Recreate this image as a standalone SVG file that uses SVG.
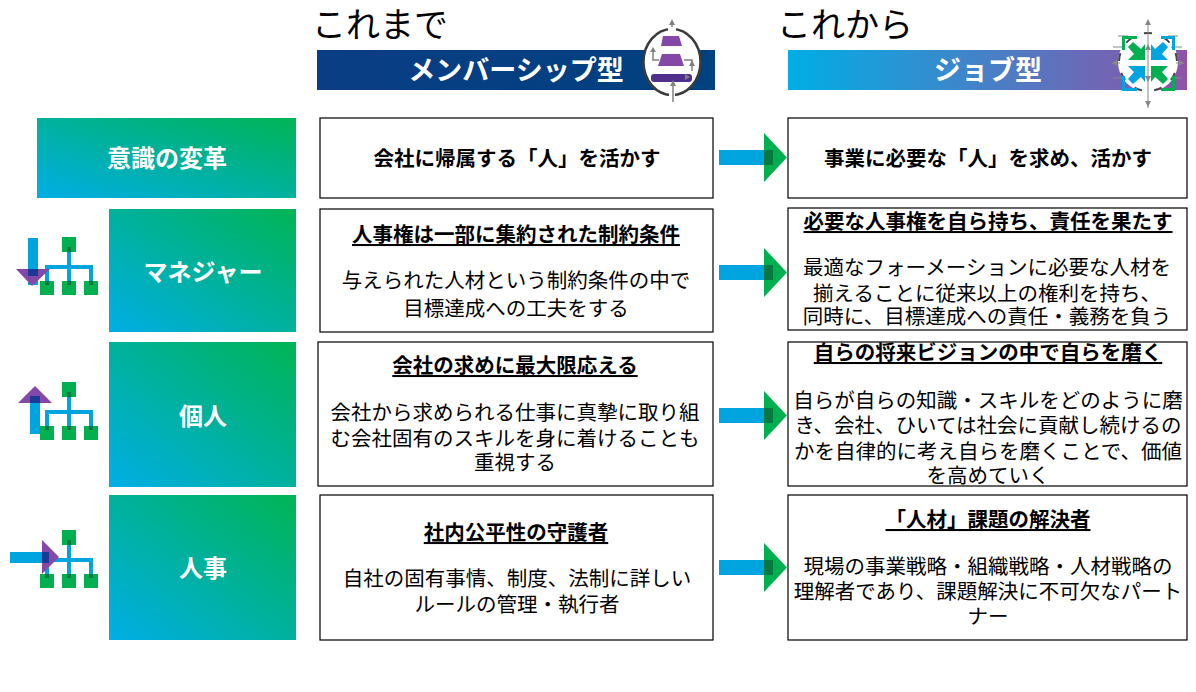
<svg xmlns="http://www.w3.org/2000/svg" width="1196" height="692" viewBox="0 0 1196 692">
<style>
text{font-family:"Noto Sans CJK JP","Noto Sans",sans-serif;fill:#000;text-anchor:middle}
.t{font-size:20.5px}
.b{font-size:20.5px;font-weight:700}
.h{font-size:20.5px;font-weight:700;text-decoration:underline}
.w{font-size:27px;font-weight:700;fill:#fff}
.l{font-size:24px;font-weight:700;fill:#fff}
.big{font-size:34px;text-anchor:start}
.box{fill:#fff;stroke:#000;stroke-width:1.2}
.c{fill:#00a5df}.g{fill:#00b050}.p{fill:#8448a8}.d{fill:#06793f}.n{fill:#1a3a96}
</style>
<defs>
<linearGradient id="gr" x1="0" y1="1" x2="1" y2="0"><stop offset="0" stop-color="#00aee6"/><stop offset="1" stop-color="#00b454"/></linearGradient>
<linearGradient id="nv" x1="0" y1="0" x2="1" y2="0"><stop offset="0" stop-color="#0a3d84"/><stop offset="1" stop-color="#00417f"/></linearGradient>
<linearGradient id="bp" x1="0" y1="0" x2="1" y2="0"><stop offset="0" stop-color="#00aee6"/><stop offset="1" stop-color="#8d53a8"/></linearGradient>
<g id="org">
<rect x="62" y="0" width="14" height="15" class="g"/>
<rect x="40" y="44" width="14" height="14" class="g"/><rect x="62" y="44" width="14" height="14" class="g"/><rect x="84" y="44" width="14" height="14" class="g"/>
<rect x="67" y="10" width="4" height="38" class="c"/>
<path d="M45 48V28H93V48H89V32H49V48Z" class="c"/>
<rect x="67" y="10" width="4" height="5" class="d"/>
<rect x="45" y="44" width="4" height="4" class="d"/><rect x="67" y="44" width="4" height="4" class="d"/><rect x="89" y="44" width="4" height="4" class="d"/>
</g>
<g id="arr">
<rect x="719" y="0" width="45" height="15" class="c"/>
<path d="M764 -17L787 7.500L764 32Z" class="g"/>
<rect x="764" y="0" width="9" height="15" class="d"/>
</g>
</defs>

<g id="connectors">
<use href="#arr" y="150"/>
<use href="#arr" y="265"/>
<use href="#arr" y="408"/>
<use href="#arr" y="560"/>
</g>

<g id="header-old">
<text class="big" x="312" y="37">これまで</text>
<rect x="317" y="50" width="398" height="40" fill="url(#nv)"/>
<text class="w" x="516" y="80">メンバーシップ型</text>
<ellipse cx="672" cy="62" rx="28.500" ry="33" fill="#fff" stroke="#3c3c3c" stroke-width="2.500"/>
<rect x="668" y="26" width="8" height="6" fill="#fff"/><rect x="669" y="92" width="6" height="6" fill="#fff"/>
<path d="M663 36H679L682 46H661Z" class="p"/>
<path d="M662 54H680L684 66H658Z" class="p"/>
<rect x="651" y="74" width="41" height="8" rx="3" fill="#50308c"/>
<path d="M672 21V27M673 86V102M653 50V60H659M684 60H692V71" stroke="#808080" stroke-width="1.500" fill="none"/>
<path d="M672 19L669 25H675ZM653 47L650 52H656ZM692 60L689 66H695ZM673 80L670 86H676ZM690 77L685 74V80Z" fill="#808080"/>
</g>

<g id="header-new">
<text class="big" x="777" y="37">これから</text>
<rect x="788" y="50" width="399" height="40" fill="url(#bp)"/>
<text class="w" x="988" y="80">ジョブ型</text>
<circle cx="1148" cy="62" r="30" fill="#fff"/>
<circle cx="1148" cy="62" r="29" fill="none" stroke="#444" stroke-width="2" stroke-dasharray="8 12.200" stroke-dashoffset="4" transform="rotate(-90 1148 62)"/>
<path d="M1148 20V108M1112 63H1120M1176 63H1184M1118 36H1128M1168 36H1178M1113 78H1124M1171 78H1182M1113 47H1124M1171 47H1182" stroke="#888" stroke-width="1"/>
<path d="M1148 19l-3 6h6ZM1148 107l-3 -6h6ZM1148 44l-3 6h6ZM1148 82l-3 -6h6ZM1112 63l5 -3v6ZM1184 63l-5 -3v6Z" fill="#888"/>
<path d="M1122 36H1137V39H1125V50H1122Z" class="g"/><path d="M1175 36H1161V39H1172V50H1175Z" class="c"/>
<path d="M1122 91H1137V88H1125V76H1122Z" class="c"/><path d="M1175 91H1161V88H1172V76H1175Z" class="g"/>
<path d="M1145 59H1128L1134 53L1128 46L1133 41L1141 48L1145 43Z" class="g" transform="translate(0 1)"/>
<path d="M1151 59H1168L1162 53L1168 46L1163 41L1155 48L1151 43Z" class="c" transform="translate(0 1)"/>
<path d="M1145 66H1128L1134 72L1128 79L1133 84L1141 77L1145 82Z" class="c"/>
<path d="M1151 66H1168L1162 72L1168 79L1163 84L1155 77L1151 82Z" class="g"/>
</g>

<g id="row1">
<rect x="37" y="118" width="259" height="80" fill="url(#gr)"/>
<text class="l" x="167" y="167">意識の変革</text>
<rect class="box" x="320" y="118" width="393" height="80"/>
<text class="b" x="517" y="166">会社に帰属する「人」を活かす</text>
<rect class="box" x="788" y="118" width="399" height="80"/>
<text class="b" x="988" y="166">事業に必要な「人」を求め、活かす</text>
</g>

<g id="row2">
<use href="#org" y="237"/>
<rect x="28" y="238" width="10" height="47" class="c"/>
<path d="M16 269H50L32 286Z" class="p"/>
<rect x="28" y="269" width="10" height="7" class="n"/>
<rect x="109" y="209" width="187" height="123" fill="url(#gr)"/>
<text class="l" x="203" y="281">マネジャー</text>
<rect class="box" x="320" y="209" width="393" height="123"/>
<text class="h" x="516" y="242">人事権は一部に集約された制約条件</text>
<text class="t" x="516" y="288">与えられた人材という制約条件の中で</text>
<text class="t" x="516" y="316">目標達成への工夫をする</text>
<rect class="box" x="788" y="208" width="399" height="122"/>
<text class="h" x="988" y="229">必要な人事権を自ら持ち、責任を果たす</text>
<text class="t" x="987" y="275">最適なフォーメーションに必要な人材を</text>
<text class="t" x="987" y="301">揃えることに従来以上の権利を持ち、</text>
<text class="t" x="987" y="324">同時に、目標達成への責任・義務を負う</text>
</g>

<g id="row3">
<use href="#org" y="382"/>
<rect x="30" y="396" width="10" height="38" class="c"/>
<path d="M18 403H52L35 386Z" class="p"/>
<rect x="30" y="396" width="10" height="7" class="n"/>
<rect x="109" y="342" width="187" height="145" fill="url(#gr)"/>
<text class="l" x="203" y="425">個人</text>
<rect class="box" x="318" y="342" width="395" height="144"/>
<text class="h" x="515" y="373">会社の求めに最大限応える</text>
<text class="t" x="515" y="420">会社から求められる仕事に真摯に取り組</text>
<text class="t" x="515" y="446">む会社固有のスキルを身に着けることも</text>
<text class="t" x="515" y="470">重視する</text>
<rect class="box" x="788" y="342" width="399" height="144"/>
<text class="h" x="988" y="360">自らの将来ビジョンの中で自らを磨く</text>
<text class="t" x="988" y="408">自らが自らの知識・スキルをどのように磨</text>
<text class="t" x="988" y="433">き、会社、ひいては社会に貢献し続けるの</text>
<text class="t" x="988" y="459">かを自律的に考え自らを磨くことで、価値</text>
<text class="t" x="988" y="483">を高めていく</text>
</g>

<g id="row4">
<use href="#org" y="530"/>
<rect x="10" y="552" width="38" height="11" class="c"/>
<path d="M42 540V574L59 557Z" class="p"/>
<rect x="42" y="552" width="7" height="11" class="n"/>
<rect x="109" y="495" width="187" height="145" fill="url(#gr)"/>
<text class="l" x="203" y="577">人事</text>
<rect class="box" x="320" y="495" width="393" height="145"/>
<text class="h" x="516" y="540">社内公平性の守護者</text>
<text class="t" x="517" y="586">自社の固有事情、制度、法制に詳しい</text>
<text class="t" x="517" y="612">ルールの管理・執行者</text>
<rect class="box" x="788" y="495" width="399" height="145"/>
<text class="h" x="988" y="527">「人材」課題の解決者</text>
<text class="t" x="988" y="574">現場の事業戦略・組織戦略・人材戦略の</text>
<text class="t" x="988" y="599">理解者であり、課題解決に不可欠なパート</text>
<text class="t" x="988" y="624">ナー</text>
</g>
</svg>
